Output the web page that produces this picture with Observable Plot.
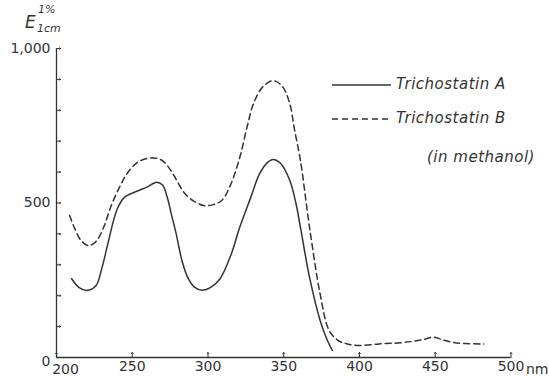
<!DOCTYPE html>
<html>
<head>
<meta charset="utf-8">
<script src="https://cdn.jsdelivr.net/npm/d3@7"></script>
<script src="https://cdn.jsdelivr.net/npm/@observablehq/plot@0.6"></script>
<style>
  html, body { margin: 0; padding: 0; background: #fff; }
  #wrap { position: relative; width: 549px; height: 376px; overflow: hidden; font-family: "DejaVu Sans", sans-serif; color: #333; }
  #wrap svg.plot { position: absolute; left: 0; top: 0; }
  .lab { position: absolute; white-space: nowrap; font-style: oblique; font-size: 15px; letter-spacing: 0.5px; line-height: 1; }
  .ylab { position: absolute; white-space: nowrap; line-height: 1; font-style: oblique; }
</style>
</head>
<body>
<div id="wrap"></div>
<script>
// Trichostatin A (solid)
const nmA = [210, 215, 220, 226, 230, 234, 240, 245, 250, 255, 260, 266, 270, 273, 276, 279, 283, 287, 291, 296, 302, 308, 315, 321, 328, 334, 339, 343, 348, 354, 358, 361, 367, 374, 378, 382];
const eA  = [255, 226, 217, 232, 290, 370, 480, 519, 532, 542, 552, 567, 558, 520, 460, 400, 310, 255, 228, 218, 228, 255, 330, 422, 515, 594, 630, 641, 628, 573, 500, 422, 260, 120, 65, 23];
// Trichostatin B (dashed)
const nmB = [208.6, 212, 216, 221, 226, 231, 236, 242, 247, 253, 259, 264, 269, 273, 278, 284, 290, 297, 303, 309, 315, 321, 326, 330, 336, 343, 349, 354, 357, 361, 367, 374, 380, 386, 392, 400, 413, 425, 435, 443, 449, 455, 462, 470, 482];
const eB  = [460, 418, 380, 362, 375, 420, 490, 555, 598, 630, 643, 646, 640, 622, 585, 535, 508, 492, 494, 508, 560, 648, 750, 821, 875, 896, 878, 821, 740, 638, 422, 206, 87, 55, 44, 39, 44, 47, 52, 59, 66, 57, 49, 45, 44];
// axis ticks
const xTicks = [200, 250, 300, 350, 400, 450, 500];
const xLabels = [250, 300, 350, 400, 450, 500];
const xFirstLabel = [200];
const yMinor = [100, 200, 300, 400, 500, 600, 700, 800, 900, 1000];
const yLabels = [500, 1000];
const yZero = [0];
const seriesNames = ["Trichostatin A", "Trichostatin B"];
const note = "(in methanol)";
const unit = "nm";

const dataA = nmA.map((x, i) => ({nm: x, e: eA[i]}));
const dataB = nmB.map((x, i) => ({nm: x, e: eB[i]}));
const ink = "#333";

const chart = Plot.plot({
  width: 549,
  height: 376,
  marginLeft: 56,
  marginRight: 38.5,
  marginTop: 48,
  marginBottom: 19,
  x: {domain: [200, 500], label: null},
  y: {domain: [0, 1000], label: null},
  style: {fontFamily: "DejaVu Sans, sans-serif", fontSize: "14px", color: ink, background: "transparent", overflow: "visible"},
  marks: [
    Plot.ruleY([0], {stroke: ink, strokeWidth: 1.3}),
    Plot.ruleX([200], {stroke: ink, strokeWidth: 1.3}),
    Plot.vector(xTicks, {x: d => d, y: 0, length: 5, rotate: 0, anchor: "start", stroke: ink, strokeWidth: 1}),
    Plot.vector(yMinor, {x: 200, y: d => d, length: 4, rotate: 90, anchor: "start", stroke: ink, strokeWidth: 1}),
    Plot.axisX({ticks: xLabels, tickSize: 0, tickPadding: 4, tickFormat: d => String(d), fontSize: 14, fill: ink, label: null}),
    Plot.text(xFirstLabel, {x: d => d, y: 0, text: d => String(d), dx: 9, dy: 12, fontSize: 14, fill: ink}),
    Plot.text([500], {x: d => d, y: 0, text: () => unit, textAnchor: "start", dx: 15, dy: 12, fontSize: 14, fill: ink}),
    Plot.axisY({ticks: yLabels, tickSize: 0, tickPadding: 6, tickFormat: d3.format(","), fontSize: 14, fill: ink, label: null}),
    Plot.text(yZero, {x: 200, y: d => d, text: d => String(d), textAnchor: "end", dx: -6, dy: 4, fontSize: 14, fill: ink}),
    Plot.line(dataA, {x: "nm", y: "e", curve: "catmull-rom", stroke: ink, strokeWidth: 1.5}),
    Plot.line(dataB, {x: "nm", y: "e", curve: "catmull-rom", stroke: ink, strokeWidth: 1.5, strokeDasharray: "6,4"})
  ]
});
chart.classList.add("plot");
const wrap = document.getElementById("wrap");
wrap.appendChild(chart);

// y-axis quantity label E(1%, 1cm)
const yl = document.createElement("div");
yl.innerHTML =
  '<span class="ylab" style="left:25px;top:14px;font-size:17px;">E</span>' +
  '<span class="ylab" style="left:38px;top:4px;font-size:11px;">1%</span>' +
  '<span class="ylab" style="left:37px;top:23px;font-size:11px;">1cm</span>';
wrap.appendChild(yl);

// legend
const leg = document.createElement("div");
leg.innerHTML =
  '<svg style="position:absolute;left:0;top:0" width="549" height="376">' +
  '<line x1="332" y1="85" x2="391" y2="85" stroke="' + ink + '" stroke-width="1.5"/>' +
  '<line x1="332" y1="119" x2="391" y2="119" stroke="' + ink + '" stroke-width="1.5" stroke-dasharray="6,4"/>' +
  '</svg>' +
  '<span class="lab" style="left:396px;top:77px;">' + seriesNames[0] + '</span>' +
  '<span class="lab" style="left:396px;top:111px;">' + seriesNames[1] + '</span>' +
  '<span class="lab" style="left:427px;top:150px;">' + note + '</span>';
wrap.appendChild(leg);
</script>
</body>
</html>
